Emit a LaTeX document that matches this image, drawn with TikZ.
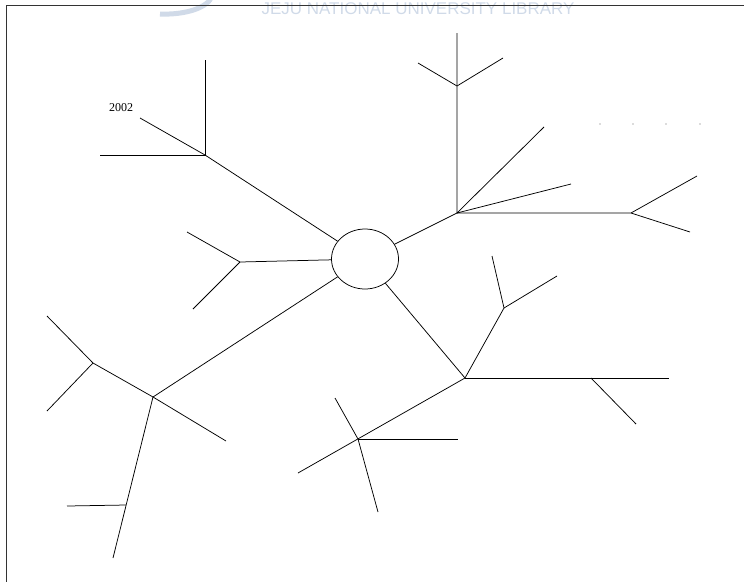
\documentclass[tikz,border=0pt]{standalone}
\usepackage{fontspec}
\setmainfont{Liberation Serif}
\newfontfamily\wmfont{Liberation Sans}
\usetikzlibrary{shapes.geometric}
\definecolor{wmblue}{RGB}{208,218,232}
\begin{document}
\begin{tikzpicture}[x=1pt,y=-1pt,
  ln/.style={draw=black,line width=0.75pt},
  hub/.style={ellipse,draw=black,line width=0.75pt,minimum width=67pt,minimum height=60pt,inner sep=0pt},
  dotmark/.style={fill=black!60,circle,inner sep=0pt,minimum size=1.3pt},
  wm/.style={text=wmblue,font=\wmfont\fontsize{17}{17}\selectfont,anchor=base,inner sep=0pt}]
\useasboundingbox (0,0) rectangle (744,582);
% watermark
\node[wm] (wmtext) at (418,14) {JEJU NATIONAL UNIVERSITY LIBRARY};
\coordinate (wmA) at (212,-4);
\coordinate (wmB) at (160,14);
\draw[wmblue,line width=5pt] (wmA) .. controls (208,8) and (185,15) .. (wmB);
% frame
\coordinate (ftl) at (6,5);
\coordinate (ftr) at (744,5);
\coordinate (fbl) at (6,582);
\draw[black!80,line width=1pt] (ftr) -- (ftl) -- (fbl);
% hub
\node[hub] (c) at (365,259) {};
% upper-left branch
\coordinate (A1) at (205,155);
\coordinate (Aend) at (140,118);
\coordinate (Ah) at (100,155);
\coordinate (Av) at (205,60);
\draw[ln] (c) -- (A1) -- (Aend);
\draw[ln] (Ah) -- (A1) -- (Av);
\node[font=\fontsize{12}{12}\selectfont,inner sep=0pt] (lbl) at (121,108) {2002};
% upper-right branch
\coordinate (B1) at (457,213);
\coordinate (Btop) at (457,33);
\coordinate (Bf) at (457,86);
\coordinate (Bfl) at (418,63);
\coordinate (Bfr) at (503,58);
\coordinate (Bd1) at (544,127);
\coordinate (Bd2) at (571,184);
\coordinate (B2) at (631,213);
\coordinate (B2u) at (697,176);
\coordinate (B2d) at (690,232);
\draw[ln] (c) -- (B1) -- (Btop);
\draw[ln] (Bfl) -- (Bf) -- (Bfr);
\draw[ln] (B1) -- (Bd1);
\draw[ln] (B1) -- (Bd2);
\draw[ln] (B1) -- (B2) -- (B2u);
\draw[ln] (B2) -- (B2d);
\foreach \i/\xx in {1/600,2/633,3/666,4/700}
  \node[dotmark] (dot\i) at (\xx,124) {};
% left branch
\coordinate (L1) at (240,262);
\coordinate (Lu) at (187,232);
\coordinate (Ld) at (193,309);
\draw[ln] (c) -- (L1) -- (Lu);
\draw[ln] (L1) -- (Ld);
% lower-left branch
\coordinate (LL1) at (153,397);
\coordinate (LL2) at (93,363);
\coordinate (LLu) at (47,316);
\coordinate (LLd) at (47,411);
\coordinate (LLr) at (226,441);
\coordinate (LLb) at (113,558);
\coordinate (LLf) at (126,505);
\coordinate (LLh) at (67,506);
\draw[ln] (c) -- (LL1) -- (LL2) -- (LLu);
\draw[ln] (LL2) -- (LLd);
\draw[ln] (LL1) -- (LLr);
\draw[ln] (LL1) -- (LLb);
\draw[ln] (LLf) -- (LLh);
% lower-right branch
\coordinate (LR1) at (465,378);
\coordinate (LR2) at (504,308);
\coordinate (LRul) at (492,256);
\coordinate (LRur) at (557,276);
\coordinate (LRh) at (669,378);
\coordinate (LRf) at (591,378);
\coordinate (LRfd) at (636,424);
\coordinate (LRdl) at (298,473);
\coordinate (LR3) at (358,439);
\coordinate (LR3h) at (458,439);
\coordinate (LR3u) at (335,398);
\coordinate (LR3d) at (378,512);
\draw[ln] (c) -- (LR1) -- (LR2) -- (LRul);
\draw[ln] (LR2) -- (LRur);
\draw[ln] (LR1) -- (LRh);
\draw[ln] (LRf) -- (LRfd);
\draw[ln] (LR1) -- (LRdl);
\draw[ln] (LR3) -- (LR3h);
\draw[ln] (LR3u) -- (LR3) -- (LR3d);
\end{tikzpicture}
\end{document}
